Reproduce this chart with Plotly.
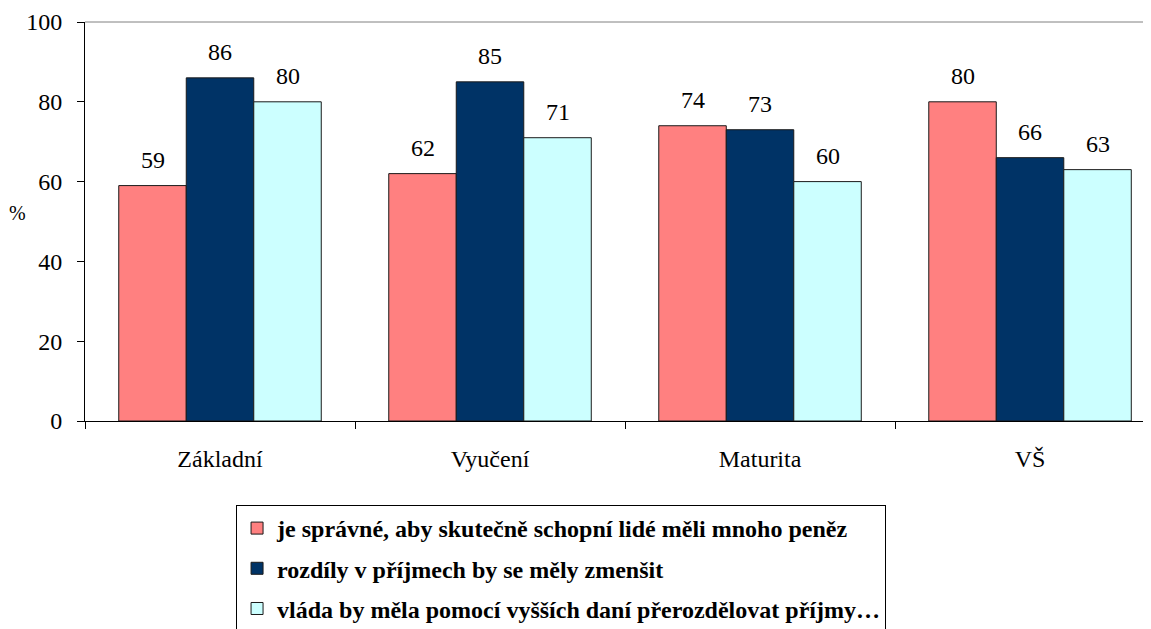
import plotly.graph_objects as go

categories = ["Základní", "Vyučení", "Maturita", "VŠ"]
series_names = [
    "je správné, aby skutečně schopní lidé měli mnoho peněz",
    "rozdíly v příjmech by se měly zmenšit",
    "vláda by měla pomocí vyšších daní přerozdělovat příjmy…",
]
vals_spravne = [59, 62, 74, 80]
vals_rozdily = [86, 85, 73, 66]
vals_vlada = [80, 71, 60, 63]
series_values = [vals_spravne, vals_rozdily, vals_vlada]
colors = ["#FF8080", "#003366", "#CCFFFF"]
label_xshift = [-67, 0, 68]

FONT = "Liberation Serif"

fig = go.Figure()
for i, (name, vals) in enumerate(zip(series_names, series_values)):
    fig.add_trace(go.Bar(
        x=categories, y=vals, name=name,
        marker=dict(color=colors[i], line=dict(color="#1a1a1a", width=1)),
        legendgroup=f"g{i}",
    ))
    for c, v in zip(categories, vals):
        fig.add_annotation(
            x=c, y=v, text=str(v), showarrow=False,
            xanchor="center", yanchor="bottom",
            xshift=label_xshift[i], yshift=11,
            font=dict(family=FONT, size=24, color="black"),
        )

fig.add_annotation(
    xref="paper", yref="paper", x=-0.063, y=0.521, text="%",
    showarrow=False, xanchor="center", yanchor="middle",
    font=dict(family=FONT, size=20, color="black"),
)

fig.add_shape(type="line", xref="paper", yref="paper", x0=0, x1=1, y0=1, y1=1,
              line=dict(color="#808080", width=1))

# the page body has an 8px margin, compensated in the figure margins
fig.update_layout(
    width=1151, height=629,
    margin=dict(l=77, r=8, t=14, b=216, autoexpand=False),
    paper_bgcolor="white", plot_bgcolor="white",
    barmode="group", bargap=0.25, bargroupgap=0,
    showlegend=True,
    legend=dict(
        x=0.1417, y=-0.2105, xanchor="left", yanchor="top",
        bordercolor="black", borderwidth=1, bgcolor="white",
        font=dict(family=FONT, size=24, color="black", weight="bold"),
        traceorder="grouped", tracegroupgap=6,
    ),
    xaxis=dict(
        range=[-0.5, 3.448], showline=True, linecolor="black", linewidth=1,
        ticks="outside", tickson="boundaries", ticklen=7, tickcolor="black",
        showgrid=False, zeroline=False, ticklabelstandoff=16,
        tickfont=dict(family=FONT, size=24, color="black"),
        automargin=False,
    ),
    yaxis=dict(
        range=[0, 100], tickvals=[0, 20, 40, 60, 80, 100],
        showline=True, linecolor="black", linewidth=1,
        ticks="outside", ticklen=7, tickcolor="black",
        showgrid=False, zeroline=False, ticklabelstandoff=10,
        tickfont=dict(family=FONT, size=24, color="black"),
        automargin=False,
    ),
)

fig.write_html("out.html")
